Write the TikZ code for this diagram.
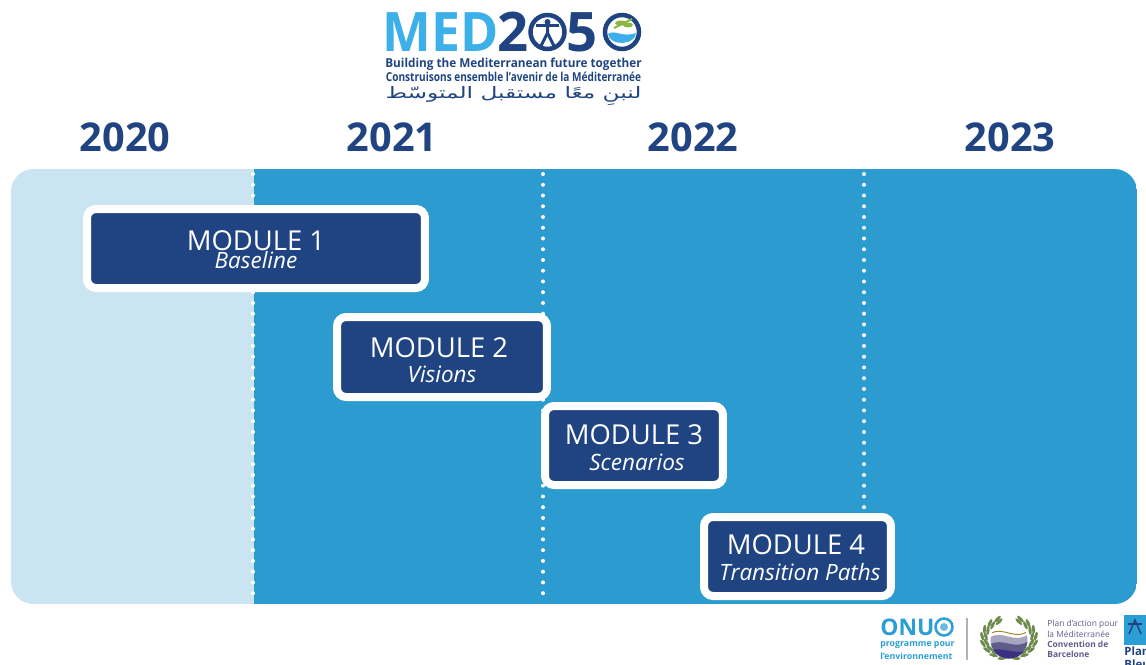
\documentclass[tikz,border=0pt]{standalone}
\usepackage{fontspec}
\setmainfont{Open Sans}
\newfontfamily\arabicfont[Script=Arabic]{DejaVu Sans}
\TeXXeTstate=1
\definecolor{navy}{HTML}{1F4481}
\definecolor{seablue}{HTML}{2C9BCF}
\definecolor{paleblue}{HTML}{CBE4F1}
\definecolor{skyblue}{HTML}{3DB0EA}
\definecolor{plumtext}{HTML}{5F5C8C}
\definecolor{onublue}{HTML}{2A9FD6}
\definecolor{olive}{HTML}{6E8B4E}
\definecolor{leafgreen}{HTML}{8AB73F}
\tikzset{
  modulebox/.style={draw=white,fill=navy,line width=0.16cm,rounded corners=0.18cm,inner sep=0pt},
  moduletitle/.style={text=white,font=\fontsize{15.6}{16}\selectfont,inner sep=0pt},
  modulesub/.style={text=white,font=\fontsize{12.8}{13}\selectfont\itshape,inner sep=0pt},
  yearlabel/.style={text=navy,font=\fontsize{22.6}{24}\selectfont\bfseries,inner sep=0pt},
  yeardots/.style={draw=white,line width=0.08cm,line cap=round,dash pattern=on 0pt off 0.215cm},
  logotext/.style={text=navy,font=\fontsize{7}{8}\selectfont\bfseries,inner sep=0pt},
  logodigit/.style={text=navy,font=\fontsize{31}{31}\selectfont\bfseries,inner sep=0pt},
  foottext/.style={text=plumtext,font=\fontsize{4.8}{5}\selectfont,inner sep=0pt,anchor=west},
  onutext/.style={text=onublue,font=\fontsize{5}{5}\selectfont\bfseries,inner sep=0pt,anchor=west},
}
\begin{document}
\begin{tikzpicture}[x=0.02cm,y=-0.02cm]
\useasboundingbox (0,0) rectangle (1146,664);
\clip (0,0) rectangle (1146,664);

\begin{scope}
\clip[rounded corners=0.45cm] (11,169) rectangle (1137,604);
\fill[paleblue] (11,169) rectangle (254,604);
\fill[seablue] (254,169) rectangle (1137,604);
\end{scope}

\coordinate (dota1) at (253,174);
\coordinate (dota2) at (253,600);
\coordinate (dotb1) at (543,174);
\coordinate (dotb2) at (543,600);
\coordinate (dotc1) at (864,174);
\coordinate (dotc2) at (864,600);
\draw[yeardots] (dota1) -- (dota2);
\draw[yeardots] (dotb1) -- (dotb2);
\draw[yeardots] (dotc1) -- (dotc2);

\node[yearlabel] (y2020) at (125,137) {2020};
\node[yearlabel] (y2021) at (392,137) {2021};
\node[yearlabel] (y2022) at (693,137) {2022};
\node[yearlabel] (y2023) at (1010,137) {2023};

\node[modulebox,minimum width=6.76cm,minimum height=1.58cm] (mod1) at (256,248.5) {};
\node[modulebox,minimum width=4.2cm,minimum height=1.6cm] (mod2) at (442,357) {};
\node[modulebox,minimum width=3.56cm,minimum height=1.58cm] (mod3) at (634,445.5) {};
\node[modulebox,minimum width=3.74cm,minimum height=1.58cm] (mod4) at (797.5,556.5) {};

\node[moduletitle] (t1) at (256,241) {MODULE 1};
\node[modulesub] (s1) at (256,260.5) {Baseline};
\node[moduletitle] (t2) at (439,348) {MODULE 2};
\node[modulesub] (s2) at (442,374) {Visions};
\node[moduletitle] (t3) at (634,435) {MODULE 3};
\node[modulesub] (s3) at (637,462) {Scenarios};
\node[moduletitle] (t4) at (796,545) {MODULE 4};
\node[modulesub] (s4) at (800,572) {Transition Paths};

\node[logodigit,text=skyblue,xscale=0.95] (med) at (441,32) {MED};
\node[logodigit,anchor=west] (two) at (497,32) {2};
\node[logodigit,anchor=west] (five) at (566,32) {5};
\draw[navy,line width=0.09cm] (547.5,32) circle (17);
\draw[navy,line width=0.09cm] (622,32) circle (17);
\fill[navy] (547.5,22) circle (3);
\draw[navy,line width=0.06cm] (536,25) -- (559,25);
\draw[navy,line width=0.06cm] (547.5,25) -- (547.5,33) -- (541,46);
\draw[navy,line width=0.06cm] (547.5,33) -- (554,46);
\fill[skyblue] (608,34) .. controls (615,29) and (622,38) .. (636,33) .. controls (636,45) and (610,47) .. (608,34);
\draw[leafgreen,line width=0.04cm] (614,28) -- (632,19);
\fill[leafgreen] (621,23) ellipse (6 and 2.5);
\fill[leafgreen] (628,25) ellipse (5 and 2.5);

\node[logotext,xscale=0.955] (line1) at (513.5,64) {Building the Mediterranean future together};
\node[logotext,xscale=0.82] (line2) at (513.5,77) {Construisons ensemble l’avenir de la Méditerranée};
\node[logotext,font=\fontsize{9}{10}\selectfont\arabicfont,xscale=1.47] (line3) at (513.5,96) {\beginR لنبنِ معًا مستقبل المتوسّط\endR};

\node[text=onublue,font=\fontsize{13}{13}\selectfont\bfseries,inner sep=0pt,anchor=west] (onu) at (880,627) {ONU};
\draw[onublue,line width=0.05cm] (944,627) circle (8.5);
\fill[onublue!70] (944,627) circle (4);
\node[onutext] (onu1) at (880,645) {programme pour};
\node[onutext] (onu2) at (880,656) {l’environnement};
\coordinate (sep1) at (967,618);
\coordinate (sep2) at (967,660);
\draw[gray!60,line width=0.03cm] (sep1) -- (sep2);

\foreach \k in {0.86,1} {
  \foreach \a in {-75,-55,...,65} {
    \fill[olive,shift={({1009+27*\k*cos(\a)},{638-21*\k*sin(\a)})},rotate=\a-20] (0,0) ellipse (1.6 and 4.5);
  }
  \foreach \a in {115,135,...,255} {
    \fill[olive,shift={({1009+27*\k*cos(\a)},{638-21*\k*sin(\a)})},rotate=\a+20] (0,0) ellipse (1.6 and 4.5);
  }
}
\begin{scope}
\clip (1009,640) circle (18.5);
\fill[white] (1009,640) circle (18.5);
\draw[olive!60!orange,line width=0.02cm] (990,634) .. controls (1003,625) and (1014,642) .. (1030,630);
\fill[plumtext!55] (989,638) .. controls (1003,628) and (1014,646) .. (1030,633) -- (1030,660) -- (989,660) -- cycle;
\fill[plumtext] (989,645) .. controls (1003,636) and (1014,652) .. (1030,640) -- (1030,660) -- (989,660) -- cycle;
\fill[navy!70!violet] (989,651) .. controls (1003,645) and (1014,657) .. (1030,649) -- (1030,660) -- (989,660) -- cycle;
\end{scope}

\node[foottext] (pl1) at (1047,624) {Plan d’action pour};
\node[foottext] (pl2) at (1047,634) {la Méditerranée};
\node[foottext,font=\fontsize{4.8}{5}\selectfont\bfseries] (pl3) at (1047,644) {Convention de};
\node[foottext,font=\fontsize{4.8}{5}\selectfont\bfseries] (pl4) at (1047,654) {Barcelone};

\fill[onublue] (1124,615) rectangle (1146,645);
\draw[navy,line width=0.03cm] (1129,634) -- (1135,620) -- (1141,634);
\draw[navy,line width=0.03cm] (1128,624) -- (1142,624);
\node[text=navy,font=\fontsize{6.5}{7}\selectfont\bfseries,inner sep=0pt,anchor=west] (bleu1) at (1124,651) {Plan};
\node[text=navy,font=\fontsize{6.5}{7}\selectfont\bfseries,inner sep=0pt,anchor=west] (bleu2) at (1124,664) {Bleu};
\end{tikzpicture}
\end{document}
